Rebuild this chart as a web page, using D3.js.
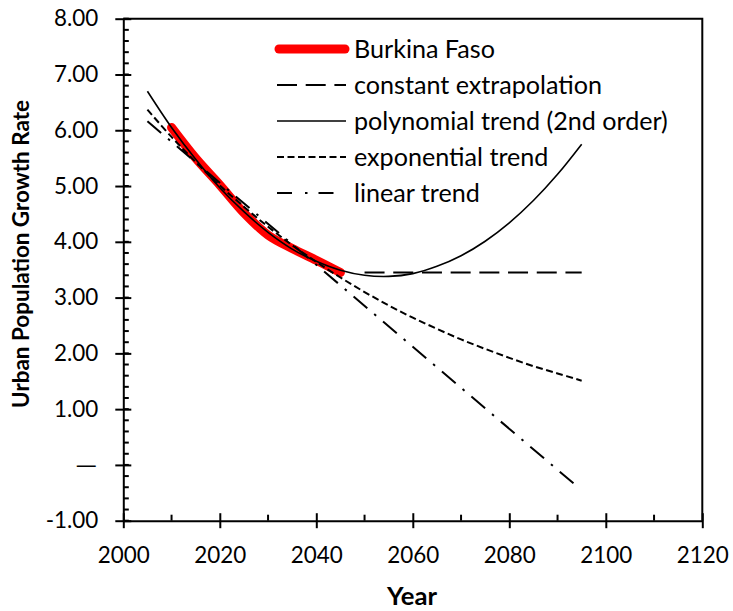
<!DOCTYPE html>
<html><head><meta charset="utf-8">
<script src="https://cdn.jsdelivr.net/npm/d3@7"></script>
<style>
body{margin:0;background:#fff}
svg{display:block}
text{font-family:Lato, "Open Sans", sans-serif;fill:#000}
</style>
</head><body>
<svg id="chart" width="733" height="611"></svg>
<script>
// ---- data ----
const seriesNames = ["Burkina Faso", "constant extrapolation", "polynomial trend (2nd order)", "exponential trend", "linear trend"];

const dataYears = [2010, 2015, 2020, 2025, 2030, 2035, 2040, 2045];
const burkinaFaso = [6.05, 5.50, 5.02, 4.52, 4.12, 3.88, 3.67, 3.45];

const constantYears = [2050, 2095];
const constantValues = [3.45, 3.45];

const trendYears = [2005, 2010, 2015, 2020, 2025, 2030, 2035, 2040, 2045, 2050,
                    2055, 2060, 2065, 2070, 2075, 2080, 2085, 2090, 2095];
const polynomialValues = [6.70, 6.05, 5.48, 4.97, 4.54, 4.17, 3.87, 3.65, 3.49, 3.40,
                          3.38, 3.43, 3.56, 3.75, 4.01, 4.34, 4.74, 5.21, 5.75];
const exponentialValues = [6.37, 5.88, 5.43, 5.01, 4.63, 4.27, 3.94, 3.64, 3.36, 3.10,
                           2.86, 2.64, 2.44, 2.25, 2.08, 1.92, 1.77, 1.64, 1.51];

const linearYears = [2005, 2093.3];
const linearValues = [6.16, -0.33];

const xTicks = [2000, 2020, 2040, 2060, 2080, 2100, 2120];
const xMinorTicks = [2010, 2030, 2050, 2070, 2090, 2110];
const yTicks = [-1, 0, 1, 2, 3, 4, 5, 6, 7, 8];
const yTickLabels = ["-1.00", "\u2014", "1.00", "2.00", "3.00", "4.00", "5.00", "6.00", "7.00", "8.00"];

const xTitle = "Year";
const yTitle = "Urban Population Growth Rate";

// ---- layout & styles ----
const svg = d3.select("#chart");
const mLeft = 123.3, mRight = 702.3, mTop = 18.7, mBottom = 520.7;
const x = d3.scaleLinear().domain([2000, 2120]).range([mLeft, mRight]);
const y = d3.scaleLinear().domain([-1, 8]).range([mBottom, mTop]);

const styles = [
  {stroke: "#ff0000", width: 9, dash: null, cap: "round"},
  {stroke: "#000", width: 2, dash: "20,8.7", cap: "butt"},
  {stroke: "#000", width: 1.6, dash: null, cap: "butt"},
  {stroke: "#000", width: 2, dash: "7,3.5", cap: "butt"},
  {stroke: "#000", width: 2, dash: "17,10,3,10", cap: "butt"}
];

// measure a sample string and return a font size giving the target width
function fitSize(sample, target, weight) {
  const t = svg.append("text").attr("font-size", 20).attr("font-weight", weight || "normal").text(sample);
  const w = t.node().getComputedTextLength();
  t.remove();
  return 20 * target / w;
}
const tickSize = fitSize("2000", 52);
const legendSize = fitSize("polynomial trend (2nd order)", 314);
const yTitleSize = fitSize(yTitle, 308, "bold");
const xTitleSize = fitSize(xTitle, 50, "bold");

const line = d3.line().x(d => x(d[0])).y(d => y(d[1]));
const smooth = d3.line().x(d => x(d[0])).y(d => y(d[1])).curve(d3.curveCatmullRom);

function draw(pts, st, gen) {
  return svg.append("path")
    .attr("d", gen(pts))
    .attr("fill", "none")
    .attr("stroke", st.stroke)
    .attr("stroke-width", st.width)
    .attr("stroke-linecap", st.cap)
    .attr("stroke-linejoin", "round")
    .attr("stroke-dasharray", st.dash);
}

// plot area frame (top and right)
svg.append("path")
  .attr("d", `M${mLeft},${mTop}H${mRight}V${mBottom}`)
  .attr("fill", "none").attr("stroke", "#000").attr("stroke-width", 2);

// series
draw(dataYears.map((d, i) => [d, burkinaFaso[i]]), styles[0], smooth);
draw(constantYears.map((d, i) => [d, constantValues[i]]), styles[1], line);
draw(trendYears.map((d, i) => [d, polynomialValues[i]]), styles[2], smooth);
draw(trendYears.map((d, i) => [d, exponentialValues[i]]), styles[3], smooth);
const linPath = draw(linearYears.map((d, i) => [d, linearValues[i]]), styles[4], line);
// stretch the dash-dot pattern so the line both starts and ends with a dash
{
  const L = linPath.node().getTotalLength();
  const dash = 18, n = Math.round((L - dash) / 39);
  const P = (L - dash) / n, g = (P - dash - 2.5) / 2;
  linPath.attr("stroke-dasharray", `${dash},${g},2.5,${g}`);
}

// y axis
const yMinor = d3.range(-1, 8.0001, 0.2);
const yAxisG = svg.append("g").attr("transform", `translate(${mLeft},0)`);
yAxisG.selectAll("line.minor").data(yMinor).join("line")
  .attr("x1", 0).attr("x2", 5.5).attr("y1", d => y(d)).attr("y2", d => y(d))
  .attr("stroke", "#000").attr("stroke-width", 2);
const yAxis = d3.axisLeft(y).tickValues(yTicks).tickSizeInner(8).tickSizeOuter(0)
  .tickPadding(17).tickFormat((d, i) => yTickLabels[i]);
yAxisG.call(yAxis);
yAxisG.selectAll(".tick line").attr("x2", 8).attr("x1", -8);
yAxisG.selectAll(".tick line, .domain").attr("stroke", "#000").attr("stroke-width", 2);
yAxisG.selectAll(".tick text").attr("font-size", tickSize).attr("fill", "#000");
// the zero label is a full-width dash
yAxisG.selectAll(".tick text").filter(d => d === 0)
  .style("font-family", "'DejaVu Sans'").attr("font-size", 21).attr("x", -26.5).attr("dy", "0.3em");

// x axis
const xAxisG = svg.append("g").attr("transform", `translate(0,${mBottom})`);
xAxisG.selectAll("line.minor").data(xMinorTicks).join("line")
  .attr("x1", d => x(d)).attr("x2", d => x(d)).attr("y1", 0).attr("y2", -6)
  .attr("stroke", "#000").attr("stroke-width", 2);
const xAxis = d3.axisBottom(x).tickValues(xTicks).tickSizeInner(7.5).tickSizeOuter(0)
  .tickPadding(17).tickFormat(d3.format("d"));
xAxisG.call(xAxis);
xAxisG.selectAll(".tick line").attr("y1", -7.5).attr("y2", 7.5);
xAxisG.selectAll(".tick line, .domain").attr("stroke", "#000").attr("stroke-width", 2);
xAxisG.selectAll(".tick text").attr("font-size", tickSize).attr("fill", "#000")
  .attr("dy", null).attr("y", 563 - mBottom);

// axis titles
svg.append("text").attr("x", 412).attr("y", 605).attr("text-anchor", "middle")
  .attr("font-size", xTitleSize).attr("font-weight", "bold").text(xTitle);
svg.append("text").attr("transform", "translate(29,254) rotate(-90)").attr("text-anchor", "middle")
  .attr("font-size", yTitleSize).attr("font-weight", "bold").text(yTitle);

// legend
const legendRows = [49, 85, 121, 157, 193];
seriesNames.forEach((name, i) => {
  const st = styles[i];
  const x0 = i === 0 ? 279 : 277, x1 = i === 0 ? 345 : 346;
  svg.append("line").attr("x1", x0).attr("x2", x1).attr("y1", legendRows[i]).attr("y2", legendRows[i])
    .attr("stroke", st.stroke).attr("stroke-width", st.width).attr("stroke-linecap", st.cap)
    .attr("stroke-dasharray", i === 4 ? "15,13,2.5,11" : st.dash);
  svg.append("text").attr("x", 354).attr("y", legendRows[i]).attr("dy", "0.35em")
    .attr("font-size", legendSize).text(name);
});
</script>
</body></html>
